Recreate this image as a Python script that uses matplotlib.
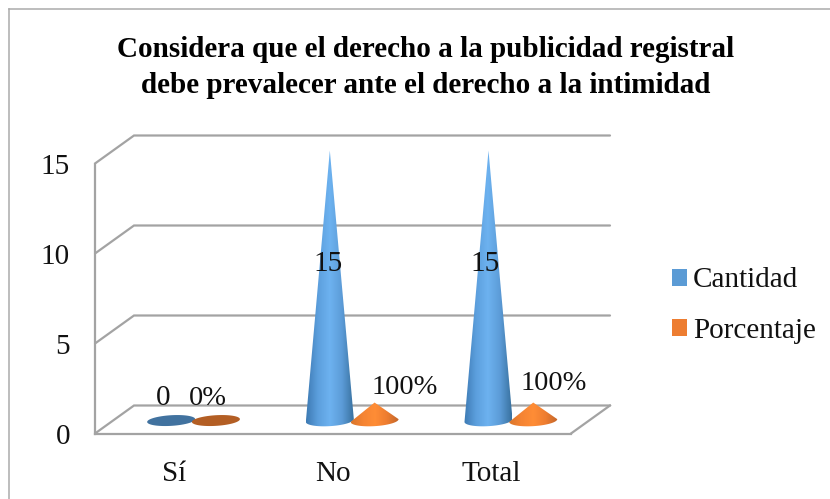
import numpy as np
import matplotlib
matplotlib.use("Agg")
import matplotlib.pyplot as plt
from matplotlib.colors import LinearSegmentedColormap
from matplotlib.lines import Line2D
from matplotlib.patches import Polygon, Patch

plt.rcParams['font.family'] = ['Liberation Serif', 'DejaVu Serif']

title = "Considera que el derecho a la publicidad registral\ndebe prevalecer ante el derecho a la intimidad"
categories = ["Sí", "No", "Total"]
cantidad = [0, 15, 15]
porcentaje = [0, 1, 1]
series_names = ["Cantidad", "Porcentaje"]
yticks = [0, 5, 10, 15]

W, H = 830, 499
fig = plt.figure(figsize=(W/100, H/100), dpi=100, facecolor='white')
L, R, B, T = 95, 571, 433.5, 163.5
ax = fig.add_axes([L/W, 1-B/H, (R-L)/W, (B-T)/H])
ax.set_xlim(-0.5, 2.5)
ax.set_ylim(0, 15)
ax.patch.set_visible(False)

px_x = (R-L)/3
px_y = (B-T)/15
GREY = '#A3A3A3'
dx, dy = 39/px_x, 28/px_y

# outer chart frame
fig.add_artist(Line2D([8.5/W, 8.5/W], [0, 1-8.5/H], color='#ABABAB', lw=1.1))
fig.add_artist(Line2D([8.5/W, 1], [1-8.5/H, 1-8.5/H], color='#ABABAB', lw=1.1))

# walls and floor
for s in ['top', 'right']:
    ax.spines[s].set_visible(False)
for s in ['left', 'bottom']:
    ax.spines[s].set_color(GREY)
    ax.spines[s].set_linewidth(1.6)
for v in yticks:
    ax.plot([-0.5, -0.5+dx, 2.5+dx], [v, v+dy, v+dy], color=GREY, lw=1.6,
            clip_on=False, solid_capstyle='round', solid_joinstyle='miter', zorder=1)
ax.plot([2.5, 2.5+dx], [0, dy], color=GREY, lw=1.6, clip_on=False, zorder=1)

FS = 21
ax.set_xticks(range(len(categories)))
ax.set_xticklabels(categories, fontsize=FS, color='#111111')
ax.set_yticks(yticks)
ax.set_yticklabels([str(v) for v in yticks], fontsize=FS, color='#111111')
ax.tick_params(length=0, axis='x', pad=20)
ax.tick_params(length=0, axis='y', pad=18)

cmap_blue = LinearSegmentedColormap.from_list('b', ['#3D7AB3', '#5C9FDD', '#6DB2F0', '#5C9CD8', '#38719F'])
cmap_orange = LinearSegmentedColormap.from_list('o', ['#D9752A', '#F58433', '#FF8D36', '#EE7D30', '#C2662A'])
flat_colors = ['#41729F', '#B35E24']
legend_colors = ['#5B9BD5', '#ED7D31']

a = 24/px_x
b = 5.6/px_y
tilt = 1.4/px_y
floor = 0.72
offsets = [-0.02, 0.262]
grad = np.linspace(0, 1, 256).reshape(1, -1)

def cone(cx, value, cmap, flat):
    if value == 0:
        t = np.linspace(0, 2*np.pi, 80)
        xs = cx + a*np.cos(t)
        ys = floor - b*np.sin(t)*0.95 + tilt*np.cos(t)
        ax.add_patch(Polygon(np.c_[xs, ys], closed=True, fc=flat, ec='none', clip_on=False, zorder=3))
        return
    t = np.linspace(0, np.pi, 50)
    xs = cx + a*np.cos(t)
    ys = floor - b*np.sin(t) + tilt*np.cos(t)
    verts = np.vstack([[cx, floor+value], np.c_[xs, ys]])
    poly = Polygon(verts, closed=True, transform=ax.transData, fc='none', ec='none', clip_on=False)
    ax.add_patch(poly)
    im = ax.imshow(grad, cmap=cmap, extent=[cx-a, cx+a, floor-b-1, floor+value+0.2],
                   aspect='auto', zorder=3, interpolation='bilinear')
    im.set_clip_box(fig.bbox)
    im.set_clip_path(poly)

for i in range(len(categories)):
    cone(i+offsets[0], cantidad[i], cmap_blue, flat_colors[0])
    cone(i+offsets[1], porcentaje[i], cmap_orange, flat_colors[1])
ax.set_xlim(-0.5, 2.5)
ax.set_ylim(0, 15)

# data labels
label_shift = {0: [(-0.07, 1.95), (0.21, 1.95)],
               1: [(-0.03, 9.42), (0.45, 2.58)],
               2: [(-0.04, 9.42), (0.39, 2.8)]}
for i in range(len(categories)):
    (x0, y0), (x1, y1) = label_shift[i]
    ax.text(i+x0, y0, f"{cantidad[i]}", ha='center', va='center', fontsize=FS, color='#111111', zorder=5)
    ax.text(i+x1, y1, f"{porcentaje[i]*100:.0f}%", ha='center', va='center', fontsize=FS-0.5, color='#111111', zorder=5)

fig.text(426/W, 1-67.5/H, title, ha='center', va='center', fontsize=21, fontweight='bold',
         color='black', linespacing=1.43)

handles = [Patch(fc=c, ec='none') for c in legend_colors]
fig.legend(handles, series_names, loc='center left', bbox_to_anchor=(672/W, 1-305.5/H),
           frameon=False, fontsize=FS, handlelength=0.52, handleheight=0.52,
           handletextpad=0.2, labelspacing=0.83, borderpad=0, borderaxespad=0,
           labelcolor='#111111')

fig.savefig('out.png', dpi=100, facecolor='white')
